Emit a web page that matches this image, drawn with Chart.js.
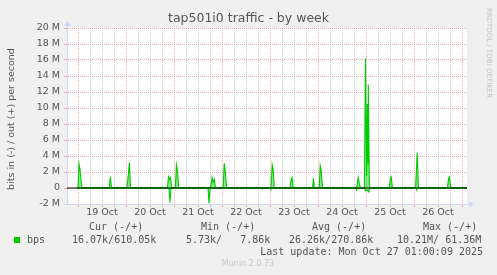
<!DOCTYPE html>
<html><head><meta charset="utf-8">
<script src="https://cdn.jsdelivr.net/npm/chart.js@4/dist/chart.umd.min.js"></script>
<style>html,body{margin:0;padding:0;background:#f0f0f0;overflow:hidden}canvas{display:block}</style>
</head><body>
<canvas id="c" width="497" height="275"></canvas>
<script>
const chartTitle = 'tap501i0 traffic - by week';
const yAxisTitle = 'bits in (-) / out (+) per second';
const dayLabels = ['19 Oct','20 Oct','21 Oct','22 Oct','23 Oct','24 Oct','25 Oct','26 Oct'];
const yTickValuesM = [-2,-1,0,1,2,3,4,5,6,7,8,9,10,11,12,13,14,15,16,17,18,19,20];
const yTickLabels = {'-2':'-2 M','0':'0','2':'2 M','4':'4 M','6':'6 M','8':'8 M','10':'10 M','12':'12 M','14':'14 M','16':'16 M','18':'18 M','20':'20 M'};
const xTickHours = [0,6,12,18,24,30,36,42,48,54,60,66,72,78,84,90,96,102,108,114,120,126,132,138,144,150,156,162,168,174,180,186,192];

// hours since 19 Oct 00:00, values in Mbit/s
const outHours  = [-0.5, 0,0.5,1.0,1.5,2.0, 15.7,16.2,16.7, 24.5,25.2,25.7,26.2, 44.7,45.3,45.8,46.3,46.8, 48.7,49.2,49.7,50.3, 66.3,67,67.5,68.1,68.7, 72.6,73.1,73.6,74.3, 96.5,97.1,97.6,98.1, 106,106.6,107,107.6, 117.3,117.7,118.2, 120.6,121.1,121.6,122.2, 139.4,140.1,140.6,141.2, 143.2,143.75,144.3,144.7,145.0,145.15,145.7,146.1, 155.6,156.2,156.6,157.2, 168.8,169.6,170.2, 184.7,185.3,185.7,186.2,186.8, 194.5];
const outValues = [0.05, 0.05,3.0,2.3,1.0,0.05, 0.05,1.4,0.05, 0.05,1.8,3.2,0.05, 0.05,1.4,1.1,1.3,0.05, 0.05,2.9,2.2,0.05, 0.05,1.3,0.7,1.1,0.05, 0.05,3.1,2.2,0.05, 0.05,2.9,2.3,0.05, 0.05,1.1,1.3,0.05, 0.05,1.2,0.05, 0.05,2.8,2.2,0.05, 0.05,1.3,0.6,0.05, 0.05,16.2,1.5,10.5,3.0,12.9,0.3,0.05, 0.05,1.2,1.4,0.05, 0.05,4.4,0.05, 0.05,1.2,1.4,0.3,0.05, 0.05];
const inHours  = [-0.5, 45.5,46,46.5, 65,65.5,66, 91.9,92.2,92.5, 96.2,96.4,96.6, 139.1,139.3,139.6, 143.3,143.7,144.6,145.4,145.9, 169,169.3,169.8, 194.5];
const inValues = [-0.01, -0.02,-1.8,-0.02, -0.02,-1.9,-0.02, -0.02,-0.15,-0.02, -0.02,-0.12,-0.02, -0.02,-0.15,-0.02, -0.02,-0.35,-0.3,-0.5,-0.02, -0.02,-0.2,-0.02, -0.02];

const legendHeaders = ['Cur (-/+)','Min (-/+)','Avg (-/+)','Max (-/+)'];
const legendValues = ['16.07k/610.05k','5.73k/   7.86k','26.26k/270.86k','10.21M/ 61.36M'];
const seriesName = 'bps';
const lastUpdate = 'Last update: Mon Oct 27 01:00:09 2025';
const footer = 'Munin 2.0.73';
const sideText = 'RRDTOOL / TOBI OETIKER';

const GREEN = '#00cc00';
const AXIS = '#CFD6F8';
const FONTC = '#555';
const toPts = (hs, vs) => hs.map((h, i) => ({x: h, y: vs[i] * 1e6}));

const decor = {
  id: 'decor',
  beforeDraw(chart) {
    const ctx = chart.ctx, a = chart.chartArea;
    ctx.save();
    ctx.fillStyle = '#f0f0f0';
    ctx.fillRect(0, 0, chart.width, chart.height);
    ctx.fillStyle = '#ffffff';
    ctx.fillRect(a.left, a.top, a.right - a.left, a.bottom - a.top);
    ctx.restore();
  },
  afterDraw(chart) {
    const ctx = chart.ctx, a = chart.chartArea;
    ctx.save();
    ctx.strokeStyle = AXIS; ctx.fillStyle = AXIS; ctx.lineWidth = 1;
    ctx.beginPath(); ctx.moveTo(a.left + 0.5, a.top); ctx.lineTo(a.left + 0.5, a.top - 4); ctx.stroke();
    ctx.beginPath(); ctx.moveTo(a.left - 2.5, a.top - 2); ctx.lineTo(a.left + 3.5, a.top - 2); ctx.lineTo(a.left + 0.5, a.top - 7); ctx.closePath(); ctx.fill();
    ctx.beginPath(); ctx.moveTo(a.left - 3, a.bottom + 0.5); ctx.lineTo(a.left, a.bottom + 0.5); ctx.stroke();
    ctx.beginPath(); ctx.moveTo(a.right, a.bottom + 0.5); ctx.lineTo(a.right + 3, a.bottom + 0.5); ctx.stroke();
    ctx.beginPath(); ctx.moveTo(a.right + 2, a.bottom - 2.5); ctx.lineTo(a.right + 2, a.bottom + 3.5); ctx.lineTo(a.right + 7, a.bottom + 0.5); ctx.closePath(); ctx.fill();

    ctx.fillStyle = FONTC;
    ctx.font = '12.5px "DejaVu Sans"';
    ctx.textAlign = 'center'; ctx.textBaseline = 'middle';
    ctx.fillText(chartTitle, 248.5, 19);

    ctx.save();
    ctx.translate(11.5, 119);
    ctx.rotate(-Math.PI / 2);
    ctx.font = '9.5px "DejaVu Sans"';
    ctx.fillText(yAxisTitle, 0, 0);
    ctx.restore();

    ctx.save();
    ctx.translate(488.5, 53);
    ctx.rotate(Math.PI / 2);
    ctx.fillStyle = '#c4c4c4';
    ctx.font = '7px "DejaVu Sans"';
    ctx.fillText(sideText, 0, 0);
    ctx.restore();

    ctx.fillStyle = FONTC;
    ctx.font = '10px "DejaVu Sans Mono"';
    ctx.textAlign = 'left'; ctx.textBaseline = 'middle';
    const hx = [89, 201, 312, 423];
    legendHeaders.forEach((t, i) => ctx.fillText(t, hx[i], 227.5));
    const vx = [72, 186, 289, 397];
    legendValues.forEach((t, i) => ctx.fillText(t, vx[i], 240));
    ctx.fillText(seriesName, 27, 240);
    ctx.fillStyle = GREEN;
    ctx.fillRect(14, 237, 6, 6);
    ctx.fillStyle = FONTC;
    ctx.textAlign = 'right';
    ctx.fillText(lastUpdate, 483, 252);
    ctx.textAlign = 'center';
    ctx.fillStyle = '#c8c8c8';
    ctx.font = '8px "DejaVu Sans"';
    ctx.fillText(footer, 248, 263.5);
    ctx.restore();
  }
};

const MAJOR = 'rgba(222,79,79,0.45)';
const MINOR = 'rgba(143,143,143,0.45)';

new Chart(document.getElementById('c'), {
  type: 'line',
  data: {
    datasets: [
      {data: [{x: -5.5, y: 0}, {x: 194.5, y: 0}], borderColor: '#000', borderWidth: 1.2, fill: false, order: 0},
      {data: toPts(outHours, outValues), borderColor: GREEN, backgroundColor: 'rgba(0,204,0,0.45)', borderWidth: 1.1, fill: 'origin', order: 1},
      {data: toPts(inHours, inValues), borderColor: GREEN, backgroundColor: 'rgba(0,204,0,0.45)', borderWidth: 1.1, fill: 'origin', order: 1}
    ]
  },
  options: {
    responsive: false, animation: false, devicePixelRatio: 1,
    layout: {padding: {left: 0, right: 30, top: 28, bottom: 0}},
    plugins: {legend: {display: false}, tooltip: {enabled: false}, title: {display: false}},
    elements: {point: {radius: 0}, line: {tension: 0}},
    scales: {
      x: {
        type: 'linear', min: -5.5, max: 194.5,
        afterBuildTicks: s => { s.ticks = xTickHours.map(v => ({value: v})); },
        afterFit: s => { s.height = 71; },
        ticks: {
          autoSkip: false, maxRotation: 0, minRotation: 0, padding: 0, color: FONTC,
          font: {family: 'DejaVu Sans', size: 9.5},
          callback: v => (v % 24 === 12 ? dayLabels[(v - 12) / 24] : '')
        },
        grid: {
          color: c => (c.tick && c.tick.value % 24 === 0 ? MAJOR : MINOR),
          tickColor: c => (c.tick && c.tick.value % 24 === 0 ? MAJOR : MINOR),
          tickLength: 3, lineWidth: 1
        },
        border: {color: AXIS, width: 1, dash: [1, 1]}
      },
      y: {
        type: 'linear', min: -2e6, max: 20e6,
        afterBuildTicks: s => { s.ticks = yTickValuesM.map(v => ({value: v * 1e6})); },
        afterFit: s => { s.width = 67; },
        ticks: {
          padding: 4, color: FONTC, font: {family: 'DejaVu Sans', size: 9.5},
          callback: v => { const k = String(Math.round(v / 1e6)); return yTickLabels[k] !== undefined ? yTickLabels[k] : ''; }
        },
        grid: {
          color: c => (c.tick && Math.round(c.tick.value / 1e6) % 2 === 0 ? MAJOR : MINOR),
          tickColor: c => (c.tick && Math.round(c.tick.value / 1e6) % 2 === 0 ? MAJOR : MINOR),
          tickLength: 3, lineWidth: 1
        },
        border: {color: AXIS, width: 1, dash: [1, 1]}
      }
    }
  },
  plugins: [decor]
});
</script>
</body></html>
